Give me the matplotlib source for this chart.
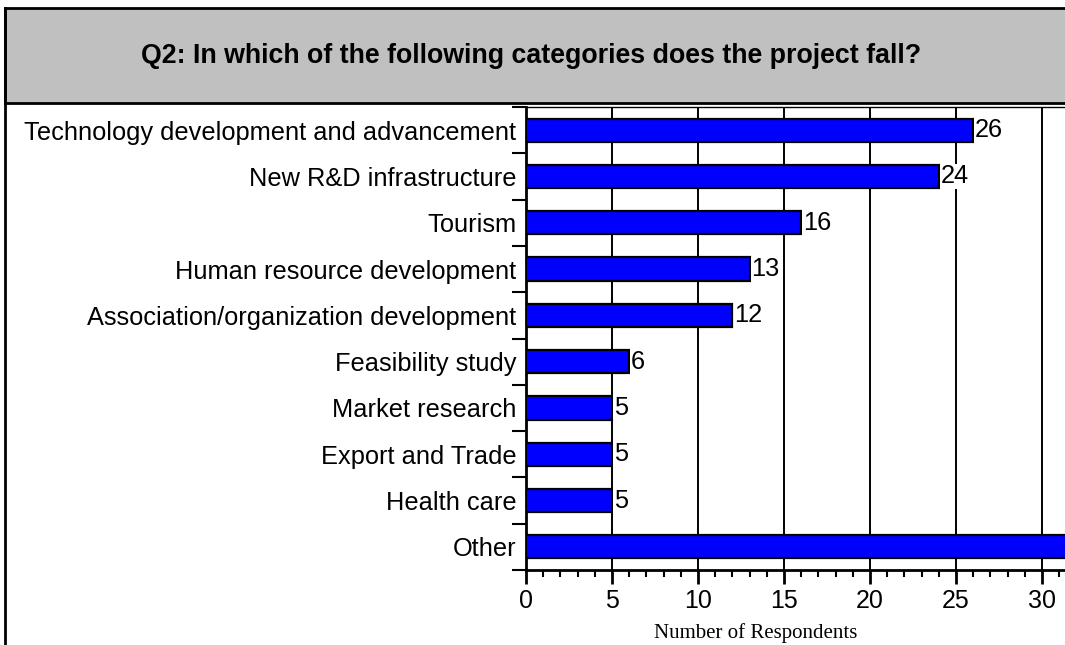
import matplotlib
matplotlib.use("Agg")
import matplotlib.pyplot as plt
from matplotlib.patches import Rectangle
from matplotlib.lines import Line2D
from matplotlib.ticker import FixedLocator

categories = [
    "Technology development and advancement",
    "New R&D infrastructure",
    "Tourism",
    "Human resource development",
    "Association/organization development",
    "Feasibility study",
    "Market research",
    "Export and Trade",
    "Health care",
    "Other",
]
respondents = [26, 24, 16, 13, 12, 6, 5, 5, 5, 35]
title = "Q2: In which of the following categories does the project fall?"
x_label = "Number of Respondents"
x_ticks = [0, 5, 10, 15, 20, 25, 30]

W, H = 1065, 645
fig = plt.figure(figsize=(W / 100, H / 100), dpi=100)
fig.patch.set_facecolor("white")

# Title panel with frame
fig.add_artist(Rectangle((5 / W, 1 - 103 / H), 1.2, (103 - 8) / H,
                         transform=fig.transFigure, facecolor="#c0c0c0",
                         edgecolor="black", linewidth=2.0, zorder=0))
fig.add_artist(Line2D([5 / W, 5 / W], [0, 1 - 8 / H], transform=fig.transFigure,
                      color="black", linewidth=2.0))
fig.text(531 / W, 1 - 56 / H, title, ha="center", va="center",
         fontsize=19.3, fontweight="bold", family="Liberation Sans")

# Plot area (extends past the right edge of the canvas)
px_per_unit = 17.2
xmax = 40
left_px, top_px, bottom_px = 526, 107, 570
ax = fig.add_axes([left_px / W, 1 - bottom_px / H,
                   xmax * px_per_unit / W, (bottom_px - top_px) / H])
visible_max = (W - left_px) / px_per_unit

y = list(range(len(categories)))
ax.barh(y, respondents, height=0.5, color="#0000ff", edgecolor="black",
        linewidth=1.6, zorder=3)
ax.set_ylim(len(categories) - 0.5, -0.5)
ax.set_xlim(0, xmax)

for yi, v in zip(y, respondents):
    if v + 2 > visible_max:
        continue  # value label would sit beyond the canvas edge
    ax.annotate(str(v), (v, yi), xytext=(1.2, 0), textcoords="offset points",
                ha="left", va="center", fontsize=18.3, family="Liberation Sans",
                bbox=dict(facecolor="white", edgecolor="none", pad=0.3),
                zorder=4)

ax.xaxis.set_major_locator(FixedLocator(x_ticks))
ax.xaxis.set_minor_locator(FixedLocator(list(range(0, 32))))
ax.grid(axis="x", which="major", color="black", linewidth=1.4, zorder=1)
ax.set_axisbelow(True)

ax.set_yticks(y)
ax.set_yticklabels(categories, family="Liberation Sans", fontsize=18.3)
ax.yaxis.set_minor_locator(FixedLocator([i - 0.5 for i in range(len(categories) + 1)]))
ax.tick_params(axis="y", which="major", length=0, pad=7)
ax.tick_params(axis="y", which="minor", length=10, width=1.5, direction="out")
ax.tick_params(axis="x", which="major", length=10, width=2, direction="out",
               labelsize=18, pad=4)
ax.tick_params(axis="x", which="minor", length=5, width=1.5, direction="out")
for lbl in ax.get_xticklabels():
    lbl.set_family("Liberation Sans")

ax.spines["left"].set_linewidth(2)
ax.spines["bottom"].set_linewidth(2)
ax.spines["top"].set_linewidth(1)
ax.spines["right"].set_linewidth(1)

fig.text(756 / W, 1 - 633 / H, x_label, ha="center", va="center",
         fontsize=15, family="Liberation Serif")

fig.savefig("out.png", dpi=100)
